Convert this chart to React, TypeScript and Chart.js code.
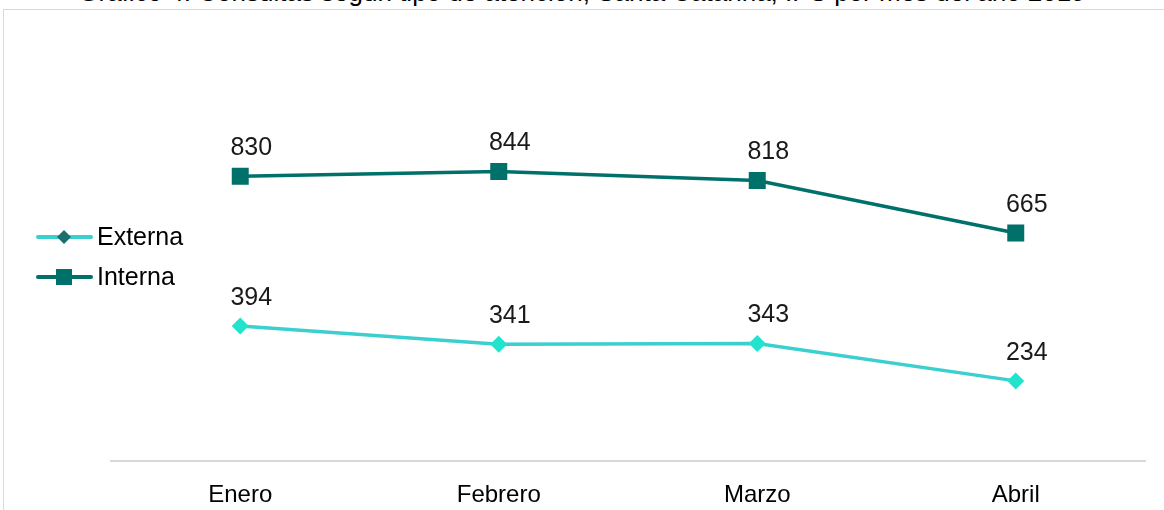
import React, { useEffect, useRef } from "react";
import { Chart, registerables } from "chart.js";

Chart.register(...registerables);

const categories = ["Enero", "Febrero", "Marzo", "Abril"];
const externa = [394, 341, 343, 234];
const interna = [830, 844, 818, 665];
const seriesNames = ["Externa", "Interna"];
const titleText = "Gráfico 4. Consultas según tipo de atención, Santa Catarina, IPS por mes del año 2019";

const FONT = "Arial, 'Liberation Sans', sans-serif";
const C_EXT_LINE = "#3ccfcf";
const C_EXT_POINT = "#22e3cc";
const C_INT = "#00706a";

const labelsPlugin = {
  id: "valueLabels",
  afterDatasetsDraw(chart: any) {
    const ctx = chart.ctx;
    ctx.save();
    ctx.font = `25px ${FONT}`;
    ctx.fillStyle = "#1a1a1a";
    ctx.textAlign = "center";
    ctx.textBaseline = "middle";
    chart.data.datasets.forEach((ds: any, i: number) => {
      const meta = chart.getDatasetMeta(i);
      meta.data.forEach((pt: any, j: number) => {
        ctx.fillText(String(ds.data[j]), pt.x + 11, pt.y - 28);
      });
    });
    ctx.restore();
  },
};

const legendPlugin = {
  id: "sideLegend",
  afterDraw(chart: any) {
    const ctx = chart.ctx;
    ctx.save();
    const items = [
      { name: seriesNames[0], line: C_EXT_LINE, fill: "#1b6f6c", style: "diamond", y: 237 },
      { name: seriesNames[1], line: C_INT, fill: C_INT, style: "square", y: 277 },
    ];
    items.forEach((it) => {
      ctx.strokeStyle = it.line;
      ctx.lineWidth = 4;
      ctx.lineCap = "round";
      ctx.beginPath();
      ctx.moveTo(38, it.y);
      ctx.lineTo(91, it.y);
      ctx.stroke();
      ctx.fillStyle = it.fill;
      if (it.style === "diamond") {
        ctx.beginPath();
        ctx.moveTo(64, it.y - 7);
        ctx.lineTo(71, it.y);
        ctx.lineTo(64, it.y + 7);
        ctx.lineTo(57, it.y);
        ctx.closePath();
        ctx.fill();
      } else {
        ctx.fillRect(56, it.y - 8, 16, 16);
      }
      ctx.fillStyle = "#000";
      ctx.font = `25px ${FONT}`;
      ctx.textAlign = "left";
      ctx.textBaseline = "middle";
      ctx.fillText(it.name, 97, it.y + 1);
    });
    ctx.restore();
  },
};

export default function App() {
  const ref = useRef<HTMLCanvasElement | null>(null);
  useEffect(() => {
    if (!ref.current) return;
    const chart = new Chart(ref.current, {
      type: "line",
      data: {
        labels: categories,
        datasets: [
          {
            label: seriesNames[0],
            data: externa,
            borderColor: C_EXT_LINE,
            backgroundColor: C_EXT_POINT,
            borderWidth: 3.5,
            pointStyle: "rectRot",
            pointRadius: 8.5,
            pointBorderWidth: 0,
            pointBackgroundColor: C_EXT_POINT,
            tension: 0,
          },
          {
            label: seriesNames[1],
            data: interna,
            borderColor: C_INT,
            backgroundColor: C_INT,
            borderWidth: 3.5,
            pointStyle: "rect",
            pointRadius: 12,
            pointBorderWidth: 0,
            pointBackgroundColor: C_INT,
            tension: 0,
          },
        ],
      },
      options: {
        animation: false,
        responsive: false,
        maintainAspectRatio: false,
        layout: { padding: { left: 111, right: 19, top: 118, bottom: -20 } },
        plugins: {
          legend: { display: false },
          tooltip: { enabled: false },
          title: { display: false },
        },
        scales: {
          x: {
            offset: true,
            grid: { display: false, drawTicks: false },
            border: { display: true, color: "#d9d9d9", width: 2 },
            ticks: { color: "#000", font: { family: FONT, size: 24 }, padding: 20 },
          },
          y: { display: false, min: 0, max: 1000 },
        },
      },
      plugins: [labelsPlugin, legendPlugin],
    });
    return () => chart.destroy();
  }, []);

  return (
    <div style={{ position: "fixed", left: 0, top: 0, width: 1164, height: 510, overflow: "hidden", background: "#fff" }}>
      <div
        style={{
          position: "absolute",
          left: 0,
          top: -21,
          width: 1164,
          textAlign: "center",
          font: `26px ${FONT}`,
          color: "#000",
          whiteSpace: "nowrap",
          lineHeight: "26px",
        }}
      >
        {titleText}
      </div>
      <div
        style={{
          position: "absolute",
          left: 3,
          top: 9,
          width: 1300,
          height: 600,
          border: "1.5px solid #d9d9d9",
          boxSizing: "border-box",
        }}
      />
      <canvas ref={ref} width={1164} height={510} style={{ position: "absolute", left: 0, top: 0, width: 1164, height: 510 }} />
    </div>
  );
}
